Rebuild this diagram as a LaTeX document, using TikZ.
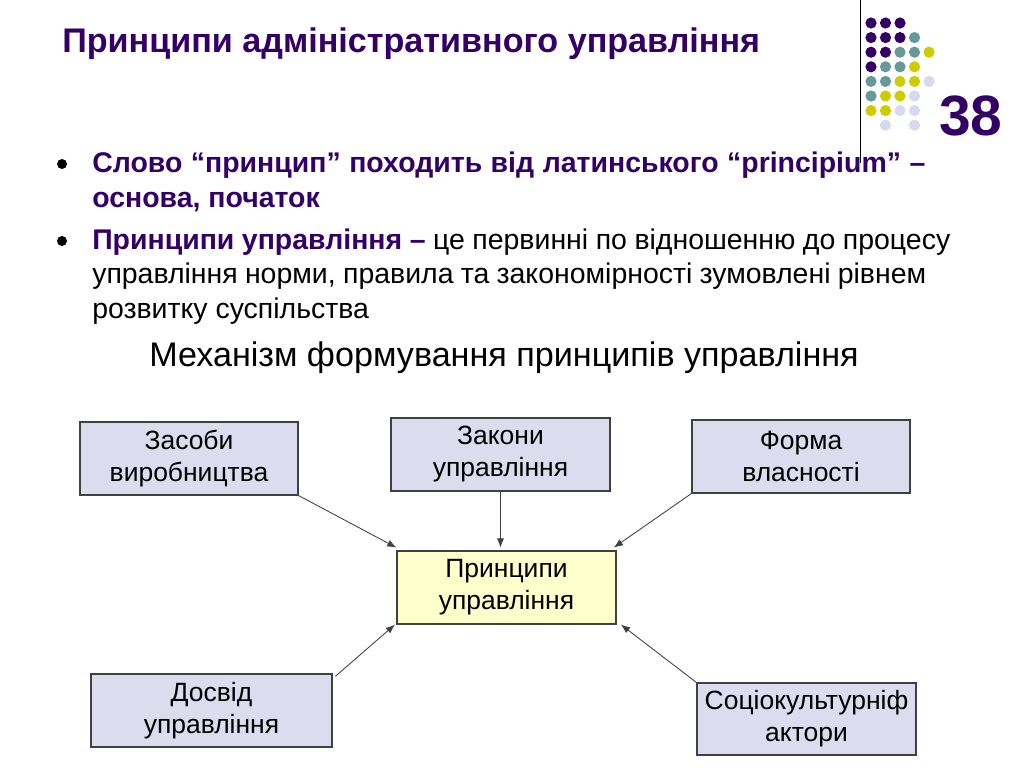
\documentclass[tikz,border=0pt]{standalone}
\usepackage{fontspec}
\setmainfont{Liberation Sans}
\usetikzlibrary{arrows.meta}
\definecolor{dpurple}{HTML}{330066}
\definecolor{dteal}{HTML}{669999}
\definecolor{dyellow}{HTML}{CCCC00}
\definecolor{dlav}{HTML}{D8D8EE}
\definecolor{boxfill}{HTML}{DCDCEE}
\definecolor{centerfill}{HTML}{FFFFCC}
\definecolor{edgegray}{HTML}{404040}
\tikzset{
  box/.style={draw=edgegray, line width=0.8pt, fill=boxfill, align=center,
    minimum height=51.3pt, inner sep=2pt, font=\fontsize{18.6}{22.5}\selectfont},
  cbox/.style={box, fill=centerfill},
  conn/.style={draw=edgegray, line width=0.6pt, -{Latex[length=6.5pt,width=5pt]}},
  bline/.style={anchor=base west, inner sep=0pt, font=\fontsize{20}{24}\selectfont},
}
\begin{document}
\begin{tikzpicture}[x=0.703pt,y=-0.703pt]
\useasboundingbox[fill=white] (0,0) rectangle (1024,768);

% decoration
\draw[line width=0.6pt, black] (860,0) -- (860,163);
\foreach \c/\r/\col in {0/0/dpurple,1/0/dpurple,2/0/dpurple,
  0/1/dpurple,1/1/dpurple,2/1/dpurple,3/1/dteal,
  0/2/dpurple,1/2/dpurple,2/2/dteal,3/2/dteal,4/2/dyellow,
  0/3/dpurple,1/3/dteal,2/3/dteal,3/3/dyellow,
  0/4/dteal,1/4/dteal,2/4/dyellow,3/4/dyellow,4/4/dlav,
  0/5/dteal,1/5/dyellow,2/5/dyellow,3/5/dlav,
  0/6/dyellow,1/6/dyellow,2/6/dlav,3/6/dlav,
  1/7/dlav,3/7/dlav}
  \fill[\col] (871+14.5*\c, 23+14.6*\r) circle[radius=5.6];
\node[anchor=base west, inner sep=0pt, text=dpurple, font=\bfseries\fontsize{40}{40}\selectfont] (num) at (939,135) {38};

% title
\node[anchor=base west, inner sep=0pt, text=dpurple, font=\bfseries\fontsize{24}{28}\selectfont] (title) at (62,52) {Принципи адміністративного управління};

% bullets
\fill (62,164) circle[radius=5];
\fill (62,241) circle[radius=5];
\node[bline, text=dpurple, font=\bfseries\fontsize{20}{24}\selectfont] (l1) at (92,172) {\makebox[585.6pt][s]{Слово “принцип” походить від латинського “principium” –}};
\node[bline, text=dpurple, font=\bfseries\fontsize{20}{24}\selectfont] (l2) at (92,207) {основа, початок};
\node[bline] (l3) at (92,249) {\makebox[603.2pt][s]{\textcolor{dpurple}{\bfseries Принципи управління –} це первинні по відношенню до процесу}};
\node[bline] (l4) at (92,283) {\makebox[586.3pt][s]{управління норми, правила та закономірності зумовлені рівнем}};
\node[bline] (l5) at (92,318) {розвитку суспільства};

% subtitle
\node[anchor=base, inner sep=0pt, font=\fontsize{24}{28}\selectfont] (sub) at (504,366) {Механізм формування принципів управління};

% boxes
\node[box, minimum width=153.3pt] (zas) at (189,458.5) {Засоби\\виробництва};
\node[box, minimum width=154pt] (zak) at (500.5,454.5) {Закони\\управління};
\node[box, minimum width=153.3pt] (form) at (801,456.5) {Форма\\власності};
\node[cbox, minimum width=154pt] (pr) at (506.5,587.5) {Принципи\\управління};
\node[box, minimum width=169.4pt] (dos) at (211.5,710.5) {Досвід\\управління};
\node[box, minimum width=154pt, minimum height=50.6pt] (soc) at (806.5,719) {Соціокультурніф\\актори};

% connectors
\draw[conn] (zas.south east) -- ([yshift=2pt]pr.north west);
\draw[conn] (zak.south) -- ([yshift=2pt]zak.south |- pr.north);
\draw[conn] (form.south west) -- ([yshift=2pt,xshift=-2pt]pr.north east);
\draw[conn] ([xshift=2pt,yshift=-2pt]dos.north east) -- ([xshift=-1pt]pr.south west);
\draw[conn] (soc.north west) -- ([xshift=3pt]pr.south east);
\end{tikzpicture}
\end{document}
